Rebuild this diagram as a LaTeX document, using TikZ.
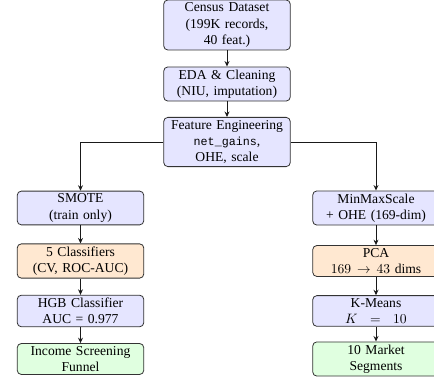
\documentclass[tikz,border=0pt]{standalone}
\usepackage[no-math]{fontspec}
\setmainfont{Liberation Serif}
\setmonofont[Scale=0.86]{Liberation Mono}
\usetikzlibrary{arrows.meta}
\begin{document}
\begin{tikzpicture}[x=0.735pt,y=-0.735pt,
  box/.style={draw=black!80, line width=0.6pt, rounded corners=3pt, align=center, text width=89pt, inner sep=2pt, font=\normalsize},
  bluebox/.style={box, fill=blue!10},
  orangebox/.style={box, fill=orange!18},
  greenbox/.style={box, fill=green!12},
  arr/.style={-{Stealth[length=4pt,width=3.6pt]}, line width=0.7pt, black!90}]
\useasboundingbox (0,0) rectangle (434,379);
\node[bluebox] (census) at (227,25) {Census Dataset\\(199K records,\\40 feat.)};
\node[bluebox] (eda) at (227,84) {EDA \& Cleaning\\(NIU, imputation)};
\node[bluebox] (fe) at (227,142) {Feature Engineering\\\texttt{net\_gains},\\OHE, scale};
\node[bluebox] (smote) at (80.5,208) {SMOTE\\(train only)};
\node[orangebox] (clf) at (80.5,261) {5 Classifiers\\(CV, ROC-AUC)};
\node[bluebox] (hgb) at (80.5,311) {HGB Classifier\\AUC = 0.977};
\node[greenbox] (funnel) at (80.5,359) {Income Screening\\Funnel};
\node[bluebox] (mms) at (376,208) {MinMaxScale\\+ OHE (169-dim)};
\node[orangebox] (pca) at (376,261) {PCA\\$169 \rightarrow 43$ dims};
\node[bluebox] (km) at (376,311) {K-Means\\$K\ =\ 10$};
\node[greenbox] (seg) at (376,359) {10 Market\\Segments};
\draw[arr] (census) -- (eda);
\draw[arr] (eda) -- (fe);
\draw[arr] (fe.west) -| (smote.north);
\draw[arr] (fe.east) -| (mms.north);
\draw[arr] (smote) -- (clf);
\draw[arr] (clf) -- (hgb);
\draw[arr] (hgb) -- (funnel);
\draw[arr] (mms) -- (pca);
\draw[arr] (pca) -- (km);
\draw[arr] (km) -- (seg);
\end{tikzpicture}
\end{document}
